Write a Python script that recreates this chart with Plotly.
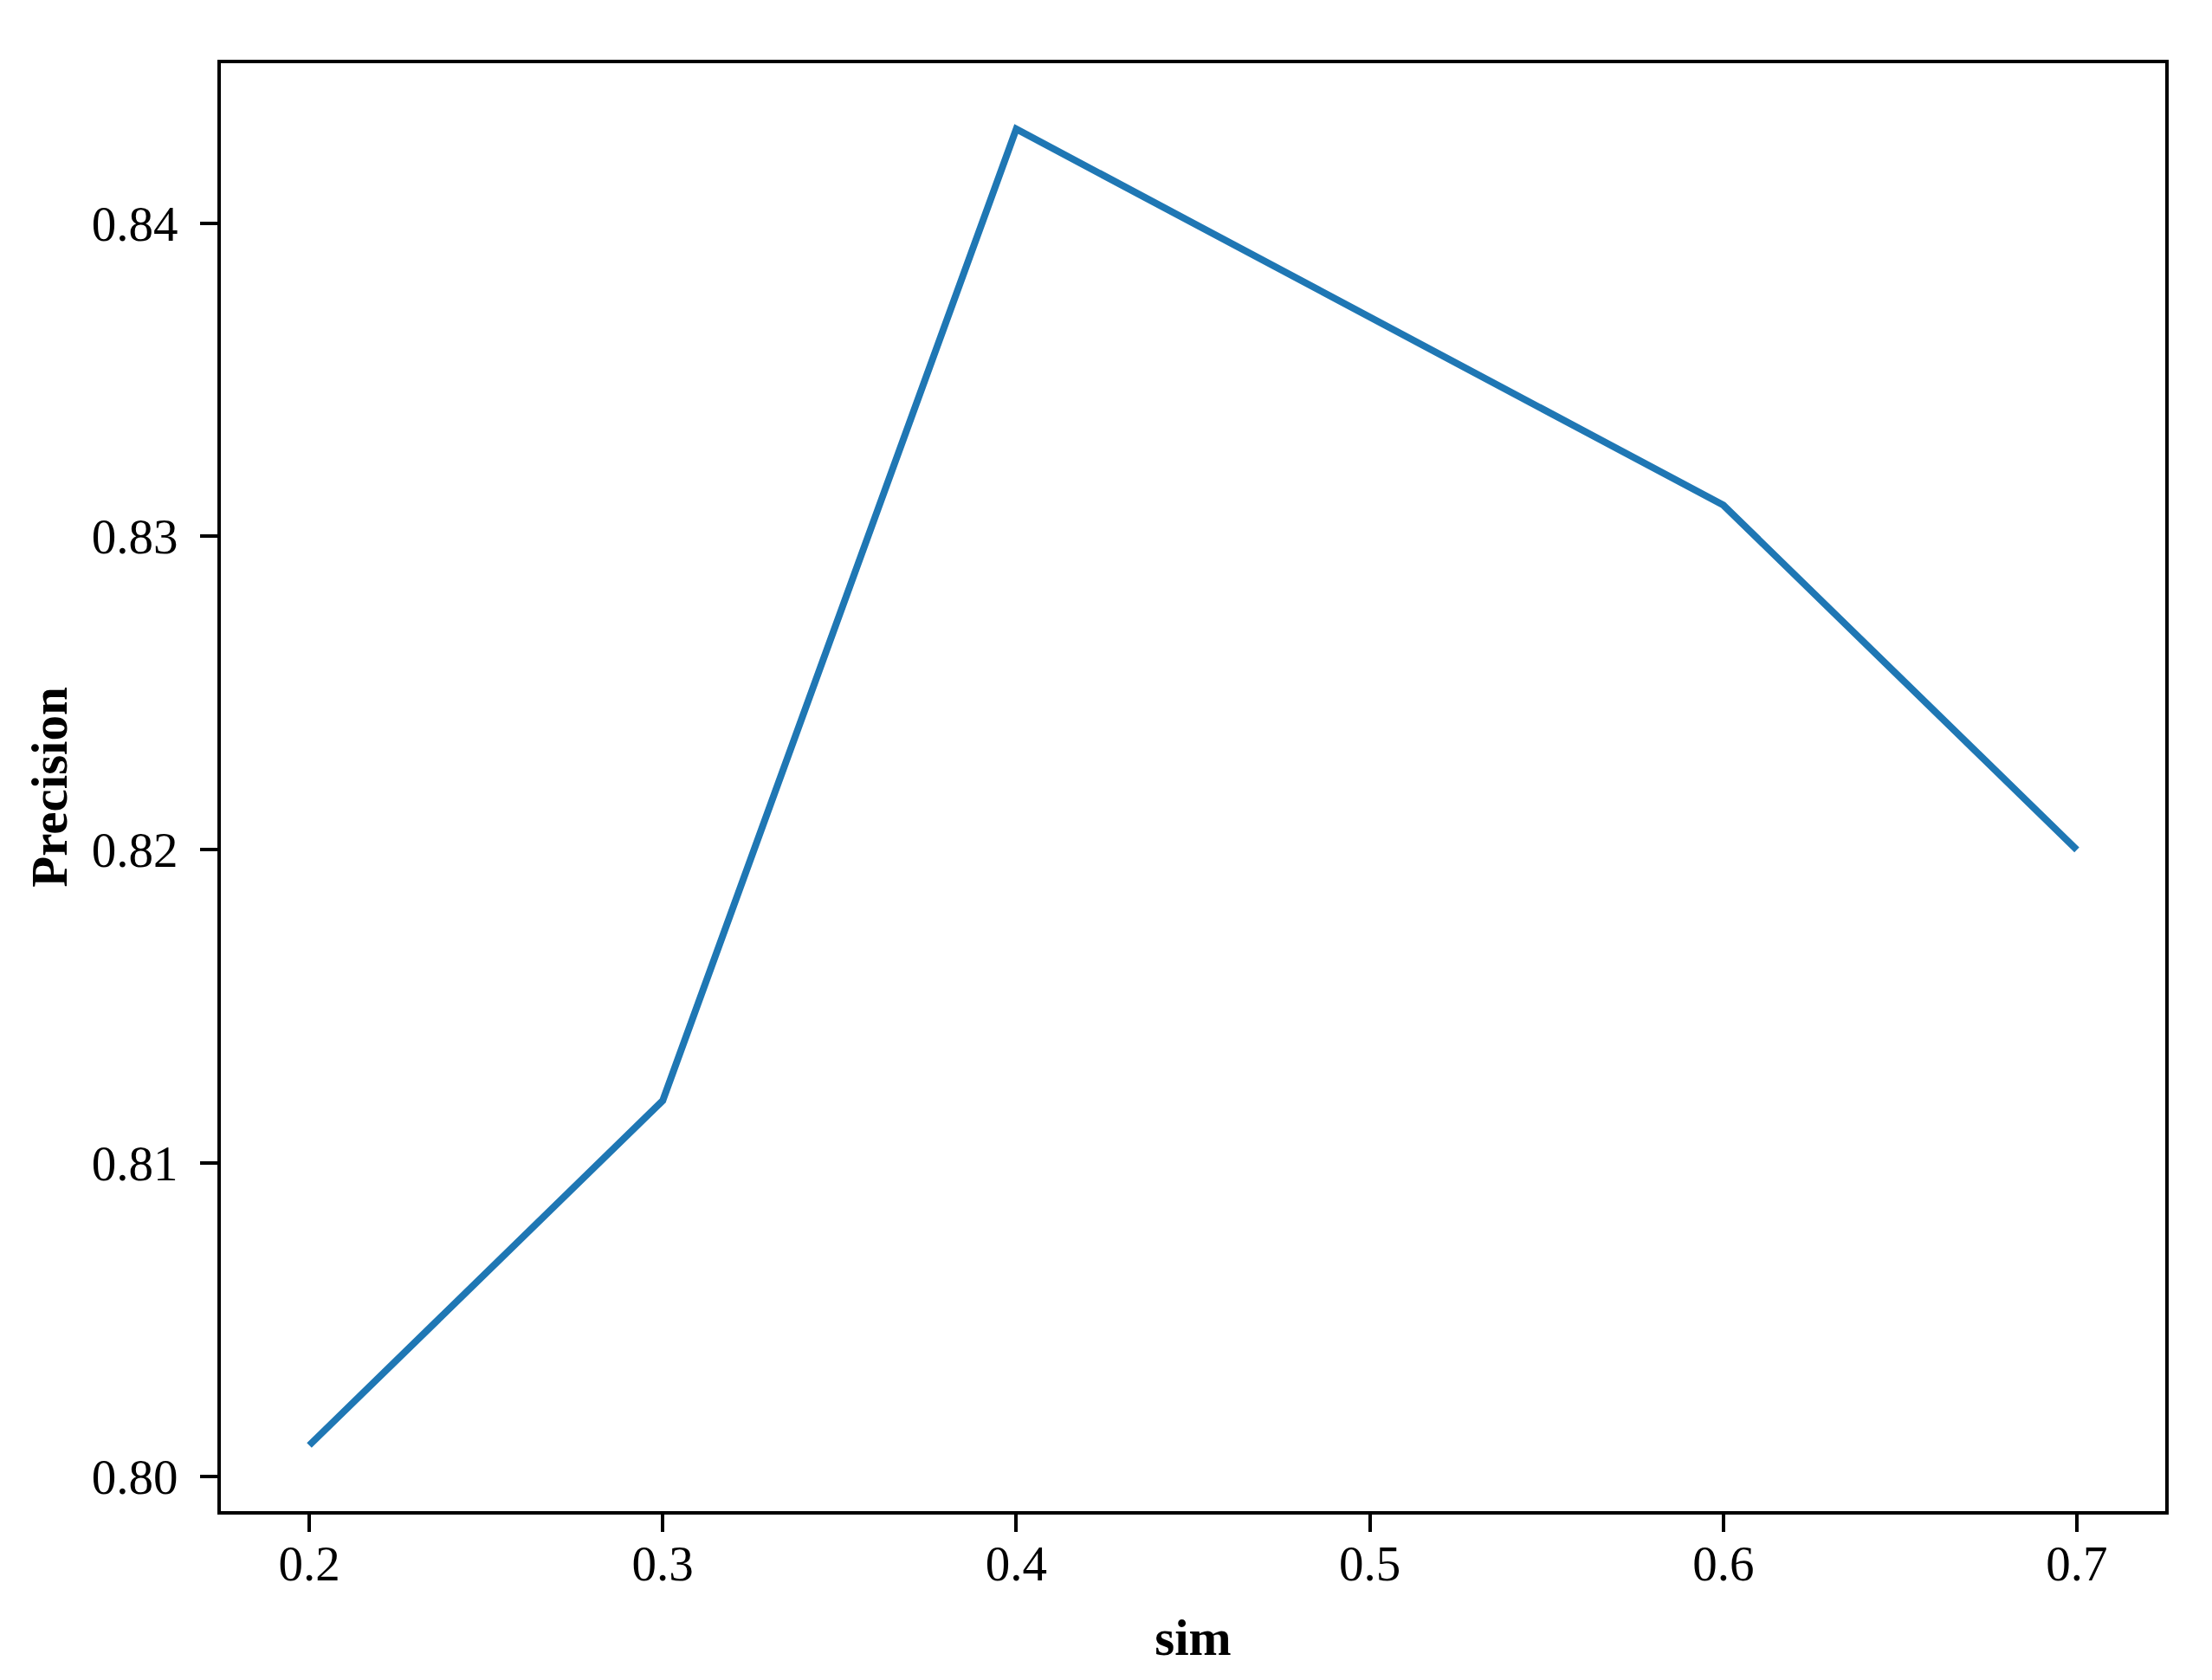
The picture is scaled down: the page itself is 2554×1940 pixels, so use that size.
import plotly.graph_objects as go

sim = [0.2, 0.3, 0.4, 0.5, 0.6, 0.7]
precision = [0.801, 0.812, 0.843, 0.837, 0.831, 0.820]

x_ticks = [0.2, 0.3, 0.4, 0.5, 0.6, 0.7]
y_ticks = [0.80, 0.81, 0.82, 0.83, 0.84]

font_family = "Liberation Serif"

fig = go.Figure()
fig.add_trace(go.Scatter(
    x=sim, y=precision, mode="lines",
    line=dict(color="#1f77b4", width=8),
    showlegend=False,
))

axis_common = dict(
    showline=True, linecolor="black", linewidth=4, mirror=True,
    ticks="outside", ticklen=20, tickwidth=4, tickcolor="black",
    showgrid=False, zeroline=False,
    tickfont=dict(family=font_family, size=57, color="black"),
)

fig.update_xaxes(
    range=[0.175, 0.725], tickvals=x_ticks, ticktext=[f"{v:.1f}" for v in x_ticks],
    title=dict(text="<b>sim</b>", font=dict(family=font_family, size=59, color="black"), standoff=34),
    ticklabelstandoff=-12,
    **axis_common,
)
fig.update_yaxes(
    range=[0.7989, 0.8451], tickvals=y_ticks, ticktext=[f"{v:.2f}" for v in y_ticks],
    title=dict(text="<b>Precision</b>", font=dict(family=font_family, size=59, color="black"), standoff=10),
    ticklabelstandoff=14,
    **axis_common,
)

# page body adds ~8px offset, so shrink the figure by that much
fig.update_layout(
    width=2546, height=1932,
    margin=dict(l=247, r=54, t=65, b=195, autoexpand=False),
    plot_bgcolor="white", paper_bgcolor="white",
)

fig.write_html("out.html")
